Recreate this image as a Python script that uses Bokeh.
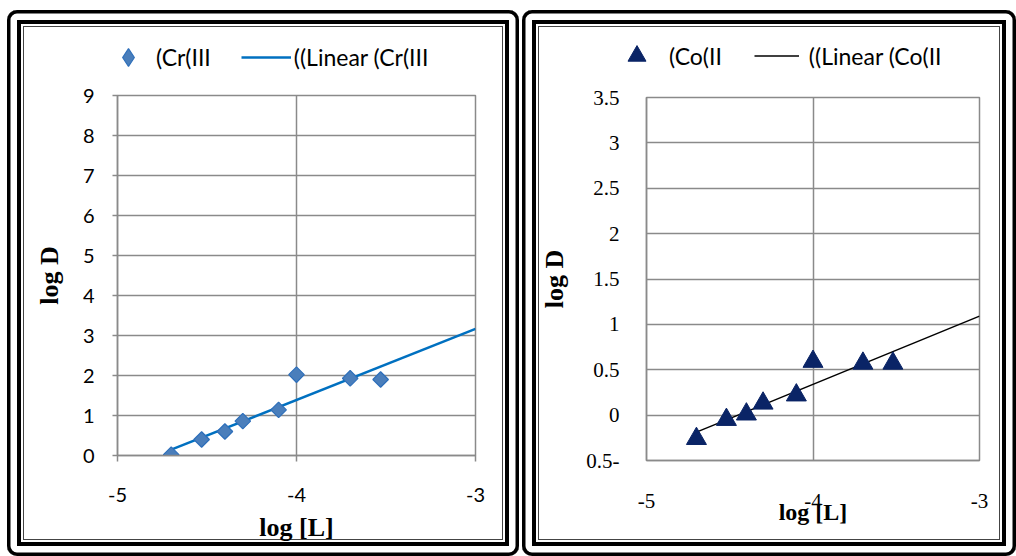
import numpy as np
from bokeh.plotting import figure
from bokeh.layouts import row, column
from bokeh.models import FixedTicker, Legend, LegendItem, Range1d, Spacer
from bokeh.embed import file_html
from bokeh.resources import INLINE

# ---------------- data ----------------
cr_x = [-4.70, -4.53, -4.40, -4.30, -4.10, -4.00, -3.70, -3.53]
cr_y = [0.02, 0.40, 0.60, 0.86, 1.14, 2.02, 1.93, 1.90]
co_x = [-4.70, -4.52, -4.40, -4.30, -4.10, -4.00, -3.70, -3.52]
co_y = [-0.26, -0.05, 0.01, 0.13, 0.22, 0.59, 0.57, 0.57]

x_ticks = [-5, -4, -3]
x_tick_labels = ["-5", "-4", "-3"]
cr_y_ticks = [0, 1, 2, 3, 4, 5, 6, 7, 8, 9]
cr_y_tick_labels = ["0", "1", "2", "3", "4", "5", "6", "7", "8", "9"]
co_y_ticks = [-0.5, 0, 0.5, 1, 1.5, 2, 2.5, 3, 3.5]
co_y_tick_labels = ["0.5-", "0", "0.5", "1", "1.5", "2", "2.5", "3", "3.5"]
cr_legend = ["(Cr(III", "((Linear (Cr(III"]
co_legend = ["(Co(II", "((Linear (Co(II"]
x_title = "log [L]"
y_title = "log D"

GRID = "#8a8a8a"
CR_FILL, CR_EDGE = "#4a7ebb", "#2e6fba"
CR_MARK = dict(marker="square", angle=np.pi / 4, size=11,
               fill_color=CR_FILL, line_color=CR_EDGE, line_width=1.2)
CR_LEG_MARK = dict(marker="diamond", fill_color=CR_FILL, line_color=CR_EDGE, line_width=1.2)
CR_LINE = dict(line_color="#0070c0", line_width=2.5)
CO_MARK = dict(marker="triangle", size=20,
               fill_color="#0a2466", line_color="#0a2466", line_width=1)
CO_LINE = dict(line_color="black", line_width=1.5)
FRAME_STYLE = {
    "border-radius": "10px",
    "box-shadow": ("inset 0 0 0 3.5px #000, inset 0 0 0 10px #fff, "
                   "inset 0 0 0 14px #000, inset 0 0 0 16px #fff, "
                   "inset 0 0 0 17px #444"),
}
LEG_H = 70


def style_axes(p, xt, xl, yt, yl, tick_font, tick_size):
    p.xaxis.ticker = FixedTicker(ticks=xt)
    p.yaxis.ticker = FixedTicker(ticks=yt)
    p.xgrid.ticker = FixedTicker(ticks=xt)
    p.ygrid.ticker = FixedTicker(ticks=yt)
    p.xaxis.major_label_overrides = {t: s for t, s in zip(xt, xl)}
    p.yaxis.major_label_overrides = {t: s for t, s in zip(yt, yl)}
    for ax in (p.xaxis[0], p.yaxis[0]):
        ax.axis_line_color = GRID
        ax.axis_line_width = 1.5
        ax.major_tick_line_color = GRID
        ax.major_tick_line_width = 1.5
        ax.minor_tick_line_color = None
        ax.major_tick_in = 0
        ax.major_label_text_font = tick_font
        ax.major_label_text_font_size = tick_size
        ax.major_label_text_color = "black"
        ax.axis_label_text_font = "Liberation Serif"
        ax.axis_label_text_font_style = "bold"
        ax.axis_label_text_color = "black"
    for g in (p.xgrid[0], p.ygrid[0]):
        g.grid_line_color = GRID
        g.grid_line_width = 1.5
    p.outline_line_color = GRID
    p.outline_line_width = 1.5


def legend_strip(width, xs, ys, labels, mark, line, loc, glyph_w, glyph_h, standoff, spacing):
    # the series are drawn here only to feed the legend; the strip's range hides them
    q = figure(width=width, height=LEG_H, x_range=Range1d(0, 1), y_range=Range1d(0, 1),
               x_axis_location=None, y_axis_location=None,
               output_backend="svg", toolbar_location=None, frame_align=False,
               min_border=0, min_border_left=0, min_border_right=0,
               min_border_top=0, min_border_bottom=0,
               background_fill_color=None, border_fill_color=None, outline_line_color=None)
    q.grid.visible = False
    rm = q.scatter(xs, ys, **mark)
    rl = q.line(xs, ys, **line)
    q.add_layout(Legend(items=[LegendItem(label=labels[0], renderers=[rm]),
                               LegendItem(label=labels[1], renderers=[rl])],
                        location=loc, orientation="horizontal",
                        glyph_width=glyph_w, glyph_height=glyph_h, label_height=glyph_h,
                        label_standoff=standoff, spacing=spacing, padding=0, margin=0,
                        border_line_color=None, background_fill_alpha=0,
                        label_text_font="Lato", label_text_font_size="23px",
                        label_text_color="black"))
    return q


# ---------------- left panel : Cr(III) ----------------
p1 = figure(width=512, height=546 - LEG_H, x_range=Range1d(-5, -3), y_range=Range1d(0, 9),
            output_backend="svg", toolbar_location=None, frame_align=False,
            min_border_left=110, min_border_right=44, min_border_top=15, min_border_bottom=101,
            background_fill_color="white", border_fill_color=None, border_fill_alpha=0)
style_axes(p1, x_ticks, x_tick_labels, cr_y_ticks, cr_y_tick_labels, "Lato", "20px")
p1.xaxis.major_tick_out = 6
p1.yaxis.major_tick_out = 5
p1.xaxis.major_label_standoff = 26
p1.yaxis.major_label_standoff = 18
p1.xaxis.axis_label = x_title
p1.yaxis.axis_label = y_title
p1.xaxis.axis_label_text_font_size = "26px"
p1.yaxis.axis_label_text_font_size = "26px"
p1.xaxis.axis_label_standoff = 8
p1.yaxis.axis_label_standoff = 16

k1, b1 = np.polyfit(cr_x, cr_y, 1)
tx1 = [cr_x[0], p1.x_range.end]
p1.line(tx1, [k1 * v + b1 for v in tx1], **CR_LINE)
p1.scatter(cr_x, cr_y, **CR_MARK)
leg1 = legend_strip(512, cr_x, cr_y, cr_legend, CR_LEG_MARK, CR_LINE,
                    (96, 1), 50, 44, 3, 30)

# ---------------- right panel : Co(II) ----------------
p2 = figure(width=494, height=546 - LEG_H, x_range=Range1d(-5, -3), y_range=Range1d(-0.5, 3.5),
            output_backend="svg", toolbar_location=None, frame_align=False,
            min_border_left=124, min_border_right=37, min_border_top=17, min_border_bottom=96,
            background_fill_color="white", border_fill_color=None, border_fill_alpha=0)
style_axes(p2, x_ticks, x_tick_labels, co_y_ticks, co_y_tick_labels, "Liberation Serif", "21px")
p2.xaxis.major_tick_out = 0
p2.yaxis.major_tick_out = 0
p2.xaxis.major_label_standoff = 33
p2.yaxis.major_label_standoff = 27
p2.xaxis.axis_label = x_title
p2.yaxis.axis_label = y_title
p2.xaxis.axis_label_text_font_size = "24px"
p2.yaxis.axis_label_text_font_size = "26px"
p2.xaxis.axis_label_standoff = -12
p2.yaxis.axis_label_standoff = 14

k2, b2 = np.polyfit(co_x, co_y, 1)
tx2 = [co_x[0], p2.x_range.end]
p2.line(tx2, [k2 * v + b2 for v in tx2], **CO_LINE)
p2.scatter(co_x, co_y, **CO_MARK)
leg2 = legend_strip(494, co_x, co_y, co_legend, CO_MARK, CO_LINE,
                    (92, 2), 45, 45, 10, 32)

panel1 = column(leg1, p1, spacing=0, styles=FRAME_STYLE)
panel2 = column(leg2, p2, spacing=0, styles=FRAME_STYLE)
layout = column(Spacer(height=10),
                row(Spacer(width=7), panel1, Spacer(width=3), panel2, spacing=0),
                spacing=0)
open("out.html", "w").write(file_html(layout, INLINE))
